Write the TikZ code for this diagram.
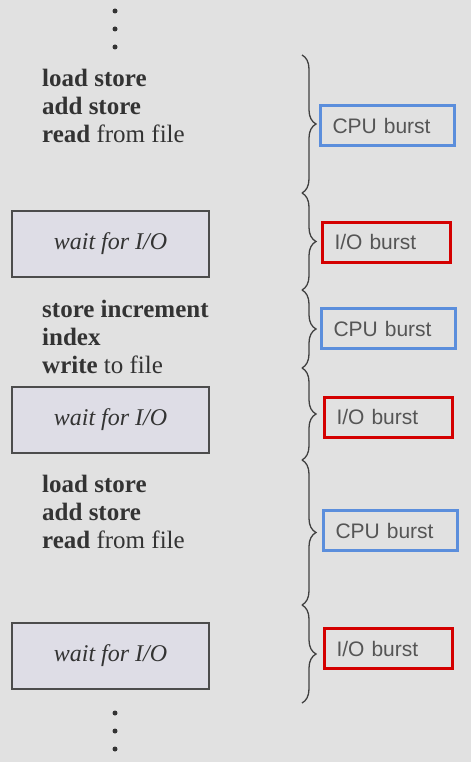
\documentclass[tikz,border=0pt]{standalone}
\usepackage{fontspec}
\setmainfont{Liberation Serif}
\setsansfont{Liberation Sans}
\usetikzlibrary{decorations.pathreplacing}

\definecolor{bgcol}{HTML}{E1E1E1}
\definecolor{waitfill}{HTML}{DEDDE6}
\definecolor{cpublue}{HTML}{5B8EDC}
\definecolor{iored}{HTML}{D40000}
\definecolor{labelgray}{HTML}{555555}

\tikzset{
  codetext/.style={anchor=west, inner sep=0pt, align=left,
    font=\fontsize{25}{28}\selectfont, text=black!80},
  waitbox/.style={draw=black!70, line width=2pt, fill=waitfill,
    minimum width=197, minimum height=66,
    font=\fontsize{24}{28}\selectfont\itshape, text=black!80},
  burstbox/.style={anchor=west, line width=3pt, text=labelgray,
    minimum height=40, inner xsep=12pt, align=left,
    font=\sffamily\fontsize{21}{24}\selectfont},
  cpubox/.style={burstbox, draw=cpublue, text width=110},
  iobox/.style={burstbox, draw=iored, text width=104},
  burstbrace/.style={decorate, decoration={brace, amplitude=14pt},
    draw=black!75, line width=1.3pt}
}

\begin{document}
\begin{tikzpicture}[x=1pt,y=-1pt]
    \fill[bgcol] (0,0) rectangle (471,762);
    % dots
    \foreach \dy in {11,29,47,713,731,749}
        \fill[black!80] (115,\dy) circle (2.5);
    % program
    \node[codetext] (code1) at (42,106)
        {\textbf{load store}\\\textbf{add store}\\\textbf{read} from file};
    \node[waitbox] (wait1) at (110.5,244) {wait for I/O};
    \node[codetext] (code2) at (42,337)
        {\textbf{store increment}\\\textbf{index}\\\textbf{write} to file};
    \node[waitbox] (wait2) at (110.5,419.5) {wait for I/O};
    \node[codetext] (code3) at (42,512)
        {\textbf{load store}\\\textbf{add store}\\\textbf{read} from file};
    \node[waitbox] (wait3) at (110.5,655.5) {wait for I/O};
    % braces
    \foreach \k/\ky in {0/55,1/193,2/290,3/368,4/460,5/605,6/703}
        \coordinate (k\k) at (302,\ky);
    \foreach \ka/\kb in {0/1,1/2,2/3,3/4,4/5,5/6}
        \draw[burstbrace] (k\ka) -- (k\kb);
    % bursts
    \node[cpubox] (cpu1) at (319,125.5) {CPU burst};
    \node[iobox] (io1) at (321,242) {I/O burst};
    \node[cpubox] (cpu2) at (320,328.5) {CPU burst};
    \node[iobox] (io2) at (323,417) {I/O burst};
    \node[cpubox] (cpu3) at (322,530.5) {CPU burst};
    \node[iobox] (io3) at (323,648.5) {I/O burst};
\end{tikzpicture}
\end{document}
